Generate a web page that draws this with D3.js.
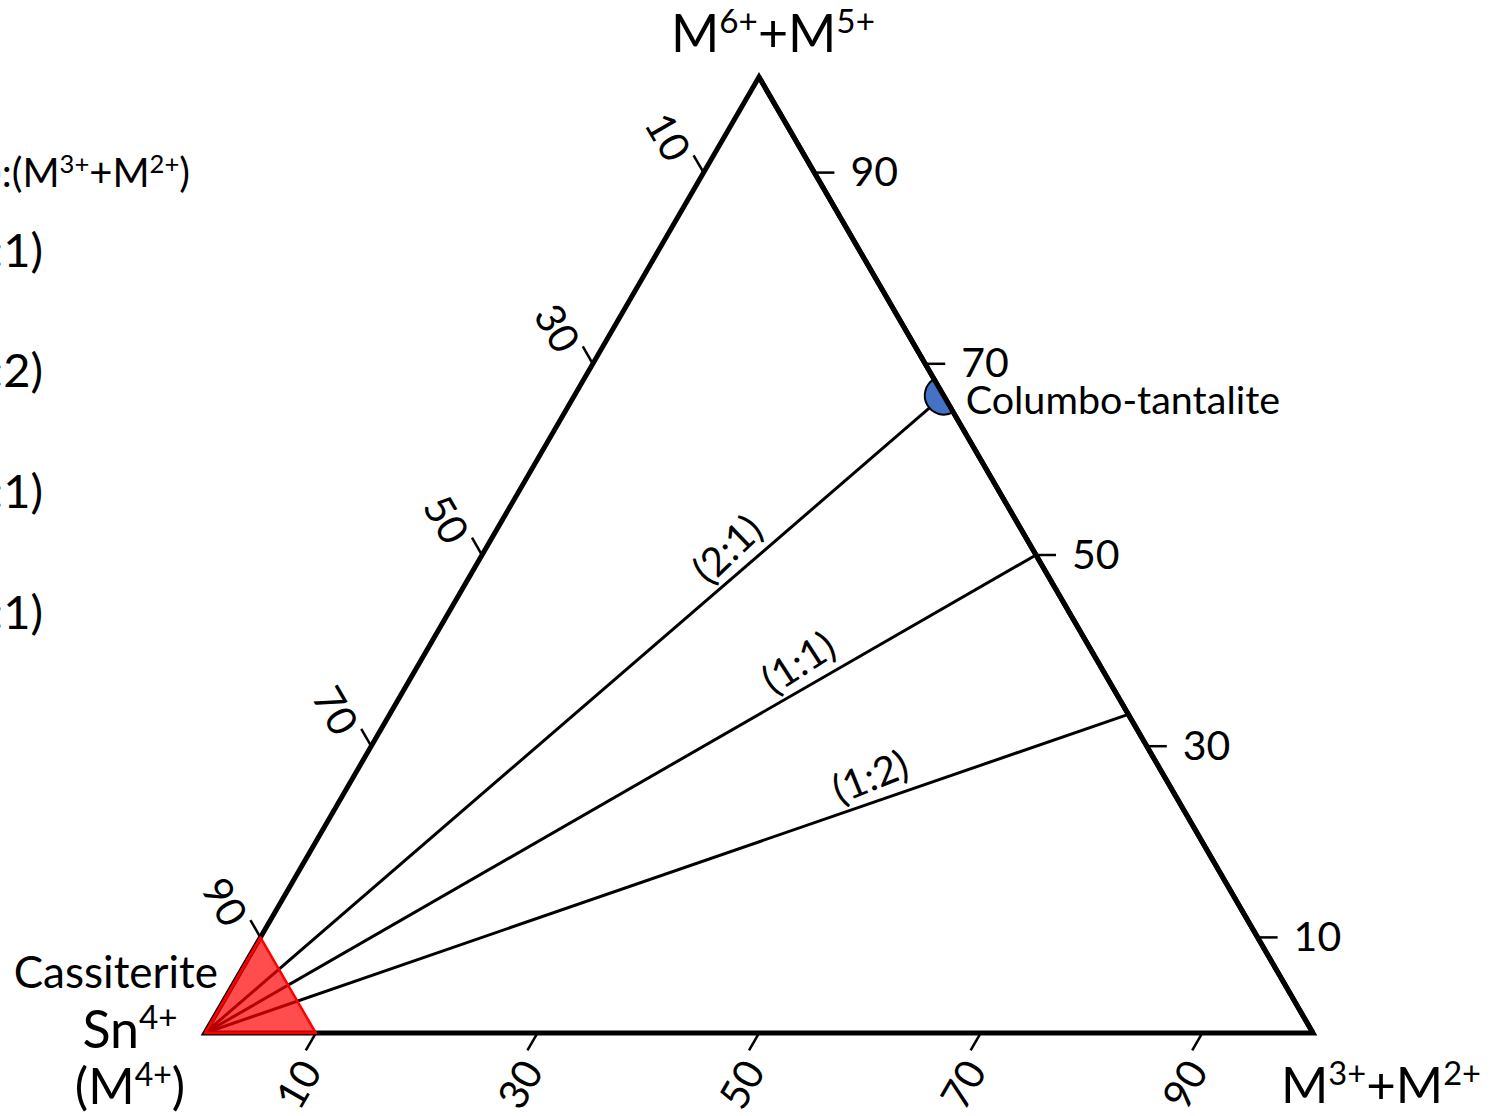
<!DOCTYPE html>
<html>
<head>
<meta charset="utf-8">
<script src="https://cdn.jsdelivr.net/npm/d3@7"></script>
<style>
  html, body { margin: 0; padding: 0; background: #fff; }
  svg { display: block; font-family: Lato, "Open Sans", sans-serif; }
</style>
</head>
<body>
<div id="chart"></div>
<script>
// ternary components: [Sn4+ (M4+), M3+ + M2+, M6+ + M5+]
const tickValues = [10, 30, 50, 70, 90];
const ratioLabels = ["(2:1)", "(1:1)", "(1:2)"];
// share of M6+ + M5+ where each ratio line meets the Sn-free edge
const ratioTopShare = [2 / 3, 1 / 2, 1 / 3];
const cassiteriteField = [[1, 0, 0], [0.9, 0.1, 0], [0.9, 0, 0.1]];
const columboPoint = [0, 1 / 3, 2 / 3];
const legendRows = ["(2:1)", "(1:2)", "(1:1)", "(1:1)"];

const width = 1511, height = 1116;

const svg = d3.select("#chart").append("svg")
  .attr("width", width)
  .attr("height", height);

svg.append("rect").attr("width", width).attr("height", height).attr("fill", "#fff");

// base scales: x along bottom edge, y up to apex
const x = d3.scaleLinear().domain([0, 1]).range([205, 1313]);
const y = d3.scaleLinear().domain([0, 1]).range([1033, 77]);

// project [sn, m32, m65] onto the page
function proj(p) {
  const s = p[0] + p[1] + p[2];
  const b = p[1] / s, c = p[2] / s;
  return [x(b + c / 2), y(c)];
}

const line = d3.line();

// ratio lines from Sn4+ apex
const ratioEnds = ratioTopShare.map(f => [0, 1 - f, f]);
svg.append("g").selectAll("path")
  .data(ratioEnds)
  .join("path")
  .attr("d", d => line([proj([1, 0, 0]), proj(d)]))
  .attr("stroke", "#000")
  .attr("stroke-width", 3)
  .attr("fill", "none");

// ratio labels
svg.append("g").selectAll("text")
  .data(ratioEnds)
  .join("text")
  .each(function (d, i) {
    const a = proj([1, 0, 0]), b = proj(d);
    const t = 0.73;
    const ang = Math.atan2(b[1] - a[1], b[0] - a[0]);
    const px = a[0] + (b[0] - a[0]) * t + Math.sin(ang) * 11;
    const py = a[1] + (b[1] - a[1]) * t - Math.cos(ang) * 11;
    d3.select(this)
      .attr("transform", `translate(${px},${py}) rotate(${ang * 180 / Math.PI - 3})`)
      .attr("text-anchor", "middle")
      .attr("font-size", 40)
      .text(ratioLabels[i]);
  });

// triangle outline
svg.append("path")
  .attr("d", line([proj([1, 0, 0]), proj([0, 1, 0]), proj([0, 0, 1])]) + "Z")
  .attr("fill", "none")
  .attr("stroke", "#000")
  .attr("stroke-width", 5)
  .attr("stroke-linejoin", "miter");

// ticks
const tickLen = 20;
const axes = [
  { // right edge: M6+ + M5+
    pt: v => [0, 1 - v / 100, v / 100],
    dir: [1, 0],
    label: e => ({ x: e[0] + tickLen + 16, y: e[1] - 2, rot: 0, anchor: "start" })
  },
  { // bottom edge: M3+ + M2+
    pt: v => [1 - v / 100, v / 100, 0],
    dir: [-0.5, 0.866],
    label: e => ({ x: e[0] - 18, y: e[1] + 51, rot: -60, anchor: "middle" })
  },
  { // left edge: Sn4+
    pt: v => [v / 100, 0, 1 - v / 100],
    dir: [-0.5, -0.866],
    label: e => ({ x: e[0] - 35, y: e[1] - 36, rot: 60, anchor: "middle" })
  }
];

axes.forEach(ax => {
  const g = svg.append("g");
  g.selectAll("line")
    .data(tickValues)
    .join("line")
    .attr("x1", v => proj(ax.pt(v))[0])
    .attr("y1", v => proj(ax.pt(v))[1])
    .attr("x2", v => proj(ax.pt(v))[0] + ax.dir[0] * tickLen)
    .attr("y2", v => proj(ax.pt(v))[1] + ax.dir[1] * tickLen)
    .attr("stroke", "#000")
    .attr("stroke-width", 2.5);
  g.selectAll("text")
    .data(tickValues)
    .join("text")
    .each(function (v) {
      const l = ax.label(proj(ax.pt(v)));
      d3.select(this)
        .attr("transform", `translate(${l.x},${l.y}) rotate(${l.rot})`)
        .attr("text-anchor", l.anchor)
        .attr("dominant-baseline", "central")
        .attr("font-size", 41)
        .text(v);
    });
});

// cassiterite field
svg.append("path")
  .attr("d", line(cassiteriteField.map(proj)) + "Z")
  .attr("fill", "rgba(255,0,0,0.7)")
  .attr("stroke", "#ff0000")
  .attr("stroke-width", 2.5)
  .attr("stroke-linejoin", "round");

// columbo-tantalite half disc on the right edge
const cp = proj(columboPoint);
svg.append("path")
  .attr("transform", `translate(${cp[0]},${cp[1]})`)
  .attr("d", d3.arc()({ innerRadius: 0, outerRadius: 19, startAngle: Math.PI * 5 / 6, endAngle: Math.PI * 11 / 6 }))
  .attr("fill", "#4472c4")
  .attr("stroke", "#000")
  .attr("stroke-width", 2);

// redraw right edge over the disc
svg.append("path")
  .attr("d", line([proj([0, 1, 0]), proj([0, 0, 1])]))
  .attr("stroke", "#000")
  .attr("stroke-width", 5);

// text helpers
function supText(sel, parts, size, k = 0.64) {
  parts.forEach(p => {
    if (p.sup) {
      sel.append("tspan").attr("font-size", size * k).attr("dy", -size * 0.36).text(p.t);
    } else {
      sel.append("tspan").attr("font-size", size).attr("dy", p.after ? size * 0.36 : 0).text(p.t);
    }
  });
}

const ions = (a, sa, b, sb) => [
  { t: a }, { t: sa, sup: true }, { t: "+" + b, after: true }, { t: sb, sup: true }
];

const topLabel = svg.append("text").attr("x", 671).attr("y", 52);
supText(topLabel, ions("M", "6+", "M", "5+"), 52);

const brLabel = svg.append("text").attr("x", 1281).attr("y", 1103);
supText(brLabel, ions("M", "3+", "M", "2+"), 51);

const snLabel = svg.append("text").attr("x", 130).attr("y", 1048).attr("text-anchor", "middle");
supText(snLabel, [{ t: "Sn" }, { t: "4+", sup: true }], 52);

const m4Label = svg.append("text").attr("x", 130).attr("y", 1104).attr("text-anchor", "middle");
supText(m4Label, [{ t: "(M" }, { t: "4+", sup: true }, { t: ")", after: true }], 50);

svg.append("text")
  .attr("x", 218).attr("y", 988)
  .attr("text-anchor", "end")
  .attr("font-size", 44)
  .text("Cassiterite");

svg.append("text")
  .attr("x", cp[0] + 22).attr("y", cp[1] + 18)
  .attr("font-size", 39.5)
  .text("Columbo-tantalite");

// legend cut off at the left edge
const hdr = svg.append("text").attr("x", 190).attr("y", 187).attr("text-anchor", "end");
supText(hdr, [
  { t: "(M" }, { t: "6+", sup: true }, { t: "+M", after: true }, { t: "5+", sup: true },
  { t: "):(M", after: true }, { t: "3+", sup: true }, { t: "+M", after: true }, { t: "2+", sup: true },
  { t: ")", after: true }
], 40);

const legendY = [267, 387, 508, 629];
svg.append("g").selectAll("text")
  .data(legendRows)
  .join("text")
  .attr("x", 43)
  .attr("y", (d, i) => legendY[i])
  .attr("text-anchor", "end")
  .attr("font-size", 47)
  .text(d => d);
</script>
</body>
</html>
